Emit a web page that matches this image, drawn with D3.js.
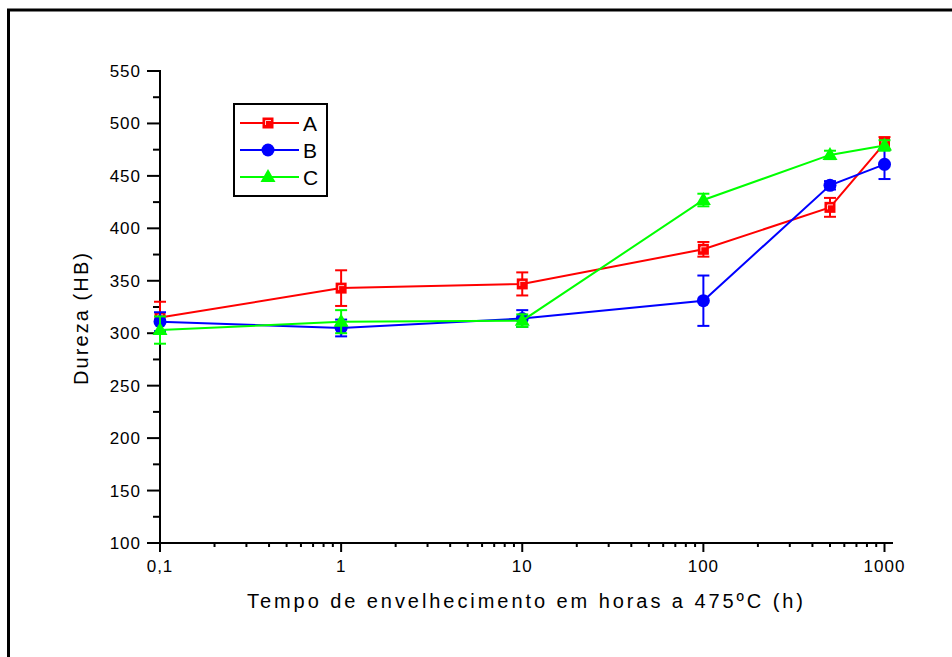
<!DOCTYPE html>
<html>
<head>
<meta charset="utf-8">
<script src="https://cdn.jsdelivr.net/npm/d3@7"></script>
<style>
  html, body { margin: 0; padding: 0; background: #fff; }
  svg { display: block; font-family: "Liberation Sans", Arial, sans-serif; }
</style>
</head>
<body>
<svg id="chart" width="952" height="657"></svg>
<script>
// Ageing time (h) at 475 ºC
const times = [0.1, 1, 10, 100, 500, 1000];
// Hardness (HB) per sample, with error half-widths
const hardA = [315, 343, 347, 380, 420, 481];
const errA  = [15, 17, 11, 7, 9, 6];
const hardB = [311, 305, 314, 331, 441, 461];
const errB  = [9, 8, 8, 24, 4, 14];
const hardC = [303, 311, 312, 427, 470, 479];
const errC  = [13, 11, 6, 6, 4, 5];
const seriesNames = ["A", "B", "C"];
const xTickValues = [0.1, 1, 10, 100, 1000];
const xTickLabels = ["0,1", "1", "10", "100", "1000"];
const yTickValues = [100, 150, 200, 250, 300, 350, 400, 450, 500, 550];

const series = [
  { name: seriesNames[0], values: hardA, err: errA, color: "#ff0000", shape: "square" },
  { name: seriesNames[1], values: hardB, err: errB, color: "#0000ff", shape: "circle" },
  { name: seriesNames[2], values: hardC, err: errC, color: "#00ff00", shape: "triangle" }
];

const svg = d3.select("#chart");

// outer frame (top and left edges)
svg.append("path")
  .attr("d", "M8.5,657 L8.5,10 L952,10")
  .attr("fill", "none").attr("stroke", "#000").attr("stroke-width", 3);

const x = d3.scaleLog().domain([0.1, 1000]).range([160, 884.5]);
const y = d3.scaleLinear().domain([100, 550]).range([543, 71]);
const xEnd = 893;

const axisG = svg.append("g").attr("stroke", "#000");

// x axis line and ticks
axisG.append("line").attr("x1", 160).attr("x2", xEnd).attr("y1", 543).attr("y2", 543).attr("stroke-width", 2);
const xMinor = [];
for (let d = 0.1; d < 1000; d *= 10) for (let k = 2; k <= 9; k++) xMinor.push(d * k);
axisG.selectAll(".xminor").data(xMinor).enter().append("line")
  .attr("x1", d => x(d)).attr("x2", d => x(d)).attr("y1", 543).attr("y2", 547).attr("stroke-width", 2);
axisG.selectAll(".xmajor").data(xTickValues).enter().append("line")
  .attr("x1", d => x(d)).attr("x2", d => x(d)).attr("y1", 543).attr("y2", 552).attr("stroke-width", 2);
svg.selectAll(".xlab").data(xTickValues).enter().append("text")
  .attr("x", d => x(d)).attr("y", 572).attr("text-anchor", "middle")
  .attr("font-size", 17).attr("letter-spacing", 1)
  .text((d, i) => xTickLabels[i]);

// y axis line and ticks
axisG.append("line").attr("x1", 160).attr("x2", 160).attr("y1", 543).attr("y2", 70).attr("stroke-width", 2);
const yMinor = d3.range(125, 550, 50);
axisG.selectAll(".yminor").data(yMinor).enter().append("line")
  .attr("x1", 160).attr("x2", 153).attr("y1", d => y(d)).attr("y2", d => y(d)).attr("stroke-width", 2);
axisG.selectAll(".ymajor").data(yTickValues).enter().append("line")
  .attr("x1", 160).attr("x2", 147).attr("y1", d => y(d)).attr("y2", d => y(d)).attr("stroke-width", 2);
svg.selectAll(".ylab").data(yTickValues).enter().append("text")
  .attr("x", 141).attr("y", d => y(d) + 6).attr("text-anchor", "end")
  .attr("font-size", 17).attr("letter-spacing", 1)
  .text(d => d);

// axis titles
svg.append("text").attr("x", 247).attr("y", 608)
  .attr("font-size", 20).attr("textLength", 556).attr("lengthAdjust", "spacing")
  .text("Tempo de envelhecimento em horas a 475ºC (h)");
svg.append("text").attr("transform", "translate(88,385) rotate(-90)")
  .attr("font-size", 20).attr("textLength", 132).attr("lengthAdjust", "spacing")
  .text("Dureza (HB)");

// marker drawing
function drawMarker(g, shape, color) {
  if (shape === "square") {
    g.append("rect").attr("x", -5.5).attr("y", -5.5).attr("width", 11).attr("height", 11).attr("fill", color);
    g.append("path").attr("d", "M-2.5,2 L-2.5,-2.5 L3,-2.5").attr("fill", "none").attr("stroke", "#fff").attr("stroke-width", 0.8);
  } else if (shape === "circle") {
    g.append("circle").attr("r", 6.5).attr("fill", color);
  } else {
    g.append("path").attr("d", "M0,-8 L7.5,5 L-7.5,5 Z").attr("fill", color);
  }
}

const line = d3.line().x(d => x(d[0])).y(d => y(d[1]));

series.forEach(s => {
  const pts = times.map((t, i) => [t, s.values[i], s.err[i]]);
  const g = svg.append("g");
  g.append("path").datum(pts).attr("d", line)
    .attr("fill", "none").attr("stroke", s.color).attr("stroke-width", 2);
  pts.forEach(p => {
    const px = x(p[0]), top = y(p[1] + p[2]), bot = y(p[1] - p[2]);
    g.append("line").attr("x1", px).attr("x2", px).attr("y1", top).attr("y2", bot)
      .attr("stroke", s.color).attr("stroke-width", 2);
    [top, bot].forEach(yy => g.append("line").attr("x1", px - 6).attr("x2", px + 6)
      .attr("y1", yy).attr("y2", yy).attr("stroke", s.color).attr("stroke-width", 2));
    drawMarker(g.append("g").attr("transform", `translate(${px},${y(p[1])})`), s.shape, s.color);
  });
});

// legend
const lg = svg.append("g");
lg.append("rect").attr("x", 234).attr("y", 104).attr("width", 93).attr("height", 92)
  .attr("fill", "#fff").attr("stroke", "#000").attr("stroke-width", 2);
series.forEach((s, i) => {
  const ly = 123 + i * 27;
  lg.append("line").attr("x1", 240).attr("x2", 299).attr("y1", ly).attr("y2", ly)
    .attr("stroke", s.color).attr("stroke-width", 2);
  drawMarker(lg.append("g").attr("transform", `translate(268,${ly})`), s.shape, s.color);
  lg.append("text").attr("x", 303).attr("y", ly + 7.5).attr("font-size", 21).text(s.name);
});
</script>
</body>
</html>
